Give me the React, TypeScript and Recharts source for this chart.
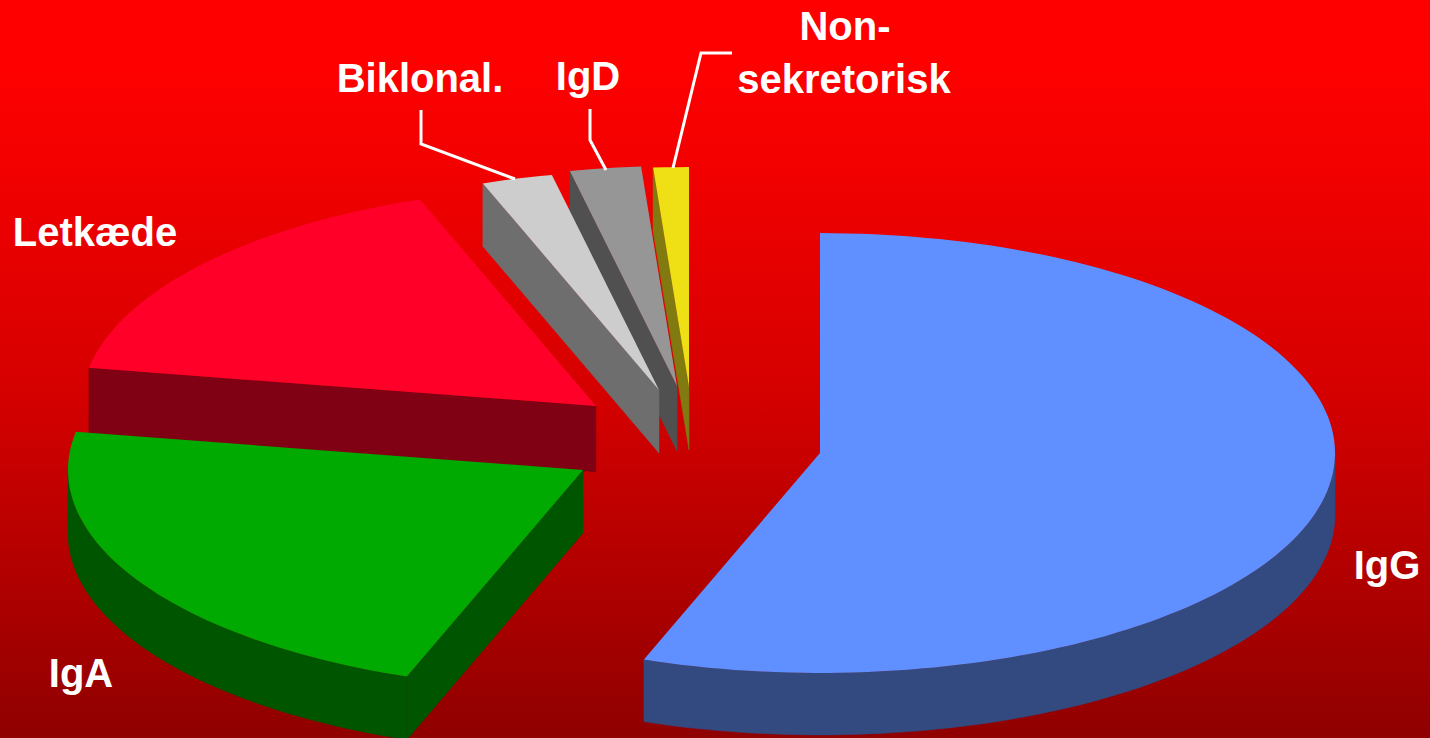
import React from "react";
import { PieChart, Pie } from "recharts";

// ordered back to front: the pie runs counter-clockwise from the top, so IgG is painted last
const names = ["Non-sekretorisk", "IgD", "Biklonal.", "Letkæde", "IgA", "IgG"];
const shares = [1, 2, 2, 15, 20, 50];
const data = names.map((name, i) => ({ name, value: shares[i] }));

const topColors = ["#eee014", "#969696", "#cdcdcd", "#ff0029", "#00aa00", "#6090ff"];
const wallColors = ["#807a10", "#505050", "#6e6e6e", "#800014", "#005500", "#324a80"];
// explosion of each slice relative to the pie centre
const offsetX = [-131, -143, -161, -224, -237, 0];
const offsetY = [-66, -67, -63, -47, 17, 0];
const depths = [63, 65, 63, 66, 63, 62];

const labelLines: string[] = [
  "M732 53 L701 53 L673 168",
  "M590 109 L590 140 L606 170",
  "M421 110 L421 144 L515 179",
  "",
  "",
  "",
];
const labelRows: { x: number; y: number; t: string }[][] = [
  [
    { x: 845, y: 40, t: "Non-" },
    { x: 844, y: 93, t: "sekretorisk" },
  ],
  [{ x: 588, y: 90, t: "IgD" }],
  [{ x: 420, y: 92, t: "Biklonal." }],
  [{ x: 95, y: 246, t: "Letkæde" }],
  [{ x: 81, y: 687, t: "IgA" }],
  [{ x: 1387, y: 579, t: "IgG" }],
];

const SQUASH = 0.427;
const rad = (d: number) => (d * Math.PI) / 180;

function Slice(props: any) {
  const { cx, cy, outerRadius, startAngle, endAngle, index } = props;
  // library angles are counter-clockwise from 3 o'clock; convert to clockwise from top
  const s = 450 - endAngle;
  const e = 450 - startAngle;
  const ox = cx + offsetX[index];
  const oy = cy + offsetY[index];
  const d = depths[index];
  const pt = (a: number, dz = 0) =>
    [ox + outerRadius * Math.sin(rad(a)), oy - outerRadius * SQUASH * Math.cos(rad(a)) + dz] as const;
  const arc = (a0: number, a1: number, dz: number) => {
    const out: string[] = [];
    const n = Math.max(2, Math.ceil(Math.abs(a1 - a0) / 1.5));
    for (let i = 0; i <= n; i++) {
      const p = pt(a0 + ((a1 - a0) * i) / n, dz);
      out.push(`${p[0].toFixed(1)} ${p[1].toFixed(1)}`);
    }
    return out;
  };
  const walls: string[] = [];
  const wallS = Math.max(s, 90);
  const wallE = Math.min(e, 270);
  if (wallS < wallE) {
    walls.push("M" + arc(wallS, wallE, 0).concat(arc(wallE, wallS, d)).join(" L") + " Z");
  }
  const side = (a: number) => {
    const p = pt(a);
    const q = pt(a, d);
    return `M${ox} ${oy} L${p[0]} ${p[1]} L${q[0]} ${q[1]} L${ox} ${oy + d} Z`;
  };
  if (Math.sin(rad(s)) < -1e-6) walls.push(side(s));
  if (Math.sin(rad(e)) > 1e-6) walls.push(side(e));
  const top = `M${ox} ${oy} L` + arc(s, e, 0).join(" L") + " Z";
  return (
    <g>
      {walls.map((w, i) => (
        <path key={i} d={w} fill={wallColors[index]} stroke={wallColors[index]} strokeWidth={0.5} />
      ))}
      <path d={top} fill={topColors[index]} />
    </g>
  );
}

function SliceLabel(props: any) {
  const { index } = props;
  return (
    <g>
      {labelLines[index] && <path d={labelLines[index]} fill="none" stroke="#fff" strokeWidth={3} />}
      {labelRows[index].map((r, i) => (
        <text
          key={i}
          x={r.x}
          y={r.y}
          textAnchor="middle"
          fill="#fff"
          fontFamily="'Liberation Sans', Arial, sans-serif"
          fontWeight={700}
          fontSize={40}
        >
          {r.t}
        </text>
      ))}
    </g>
  );
}

export default function App() {
  return (
    <div
      style={{
        position: "absolute",
        left: 0,
        top: 0,
        width: 1430,
        height: 738,
        overflow: "hidden",
        background:
          "linear-gradient(180deg, #ff0000 0px, #ff0000 60px, #f20000 170px, #d40000 400px, #a80000 620px, #8f0000 738px)",
      }}
    >
      <PieChart width={1430} height={738} margin={{ top: 0, right: 0, bottom: 0, left: 0 }}>
        <Pie
          data={data}
          dataKey="value"
          nameKey="name"
          cx={820}
          cy={453}
          innerRadius={0}
          outerRadius={515}
          startAngle={90}
          endAngle={450}
          paddingAngle={0}
          stroke="none"
          isAnimationActive={false}
          shape={Slice}
          label={SliceLabel}
          labelLine={false}
        />
      </PieChart>
    </div>
  );
}
